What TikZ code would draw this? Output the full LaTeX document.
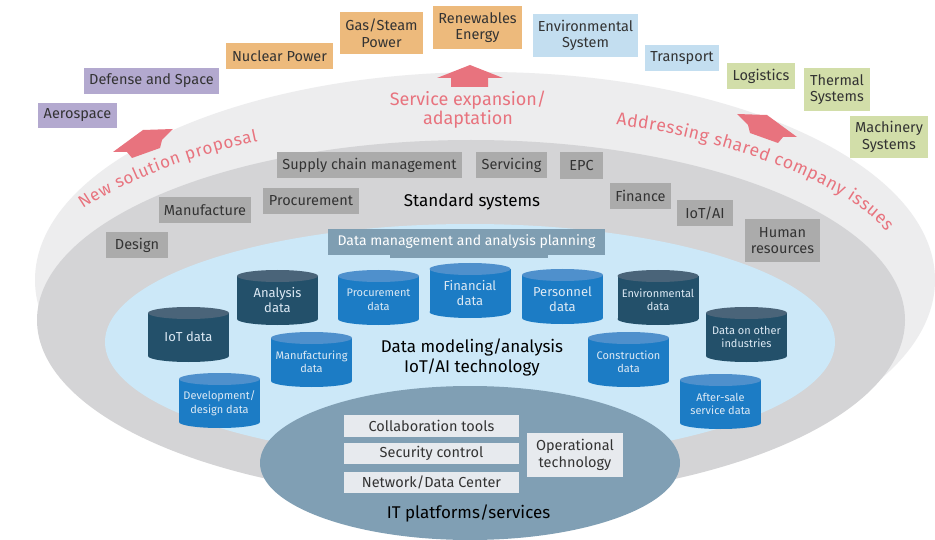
\documentclass[tikz,border=0pt]{standalone}
\usepackage{fontspec}
\setmainfont{Fira Sans}
\usetikzlibrary{decorations.text}
\definecolor{outerc}{HTML}{EDEDEE}
\definecolor{midc}{HTML}{D4D4D6}
\definecolor{bluec}{HTML}{CCE8F8}
\definecolor{itc}{HTML}{809FB4}
\definecolor{greyc}{HTML}{ABABAB}
\definecolor{purplec}{HTML}{B3A9CF}
\definecolor{orangec}{HTML}{EDBA7C}
\definecolor{lbluec}{HTML}{C3DEF0}
\definecolor{greenc}{HTML}{D2DEA9}
\definecolor{dmc}{HTML}{7F9EB2}
\definecolor{itboxc}{HTML}{E7EAEE}
\definecolor{labeltext}{HTML}{333333}
\definecolor{pinkc}{HTML}{E8737E}
\definecolor{darkbody}{HTML}{23506A}
\definecolor{darktop}{HTML}{4A6479}
\definecolor{bluebody}{HTML}{1C7CC5}
\definecolor{bluetop}{HTML}{4F90CC}
\definecolor{cyltxt}{HTML}{DCE9F4}
\newcommand{\dbcyl}[7]{%
  \fill[#4] (#2-40.5,#3+6) rectangle (#2+40.5,#3+49);
  \fill[#4] (#2,#3+49) ellipse [x radius=40.5, y radius=6];
  \fill[#5] (#2,#3+6) ellipse [x radius=40.5, y radius=6];
  \node[cyltext, font=#6] (#1) at (#2,#3+30) {#7};
}
\tikzset{
  lbl/.style={inner sep=0pt, align=center, text=labeltext, font=\fontsize{14.5}{16.5}\selectfont},
  bx/.style 2 args={minimum width=#1, minimum height=#2},
  greybox/.style={lbl, fill=greyc},
  purplebox/.style={lbl, fill=purplec},
  orangebox/.style={lbl, fill=orangec},
  lbluebox/.style={lbl, fill=lbluec},
  greenbox/.style={lbl, fill=greenc},
  itbox/.style={lbl, fill=itboxc},
  cyltext/.style={inner sep=0pt, align=center, text=cyltxt},
  bigtxt/.style={inner sep=0pt, align=center, text=black, font=\fontsize{17}{20}\selectfont},
  pinkarrow/.style={fill=pinkc},
}
\newcommand{\smallcyl}{\fontsize{11}{13.5}\selectfont}
\newcommand{\bigcyl}{\fontsize{13}{14.5}\selectfont}
\begin{document}
\begin{tikzpicture}[x=1pt,y=-1pt]
\useasboundingbox (0,0) rectangle (935,540);
\fill[white] (0,0) rectangle (935,540);
% discs
\fill[outerc] (485,280) ellipse [x radius=450, y radius=208];
\fill[midc] (471,320) ellipse [x radius=434, y radius=180];
\fill[bluec] (470,342) ellipse [x radius=365, y radius=118];
\fill[itc] (470,463) ellipse [x radius=210, y radius=77];
% arrows
\fill[pinkarrow] (113,152) -- (143,130) -- (173,129) -- (162,140) -- (160,148) -- (132,158) -- (127,152) -- cycle;
\fill[pinkarrow] (470,65) -- (503,78) -- (488,78) -- (488,87) -- (451,87) -- (451,78) -- (437,78) -- cycle;
\fill[pinkarrow] (797,137) -- (767,115) -- (737,114) -- (748,125) -- (750,133) -- (778,143) -- (783,137) -- cycle;
% pink texts
\path[decorate, decoration={text along path, text={|\color{pinkc}\fontsize{17}{17}\selectfont|New solution proposal}, text align={fit to path}}]
  (83,209) .. controls (129,178) and (205,152) .. (258,141);
\path[decorate, decoration={text along path, text={|\color{pinkc}\fontsize{17.5}{17.5}\selectfont|Addressing shared company issues}, text align={fit to path}}]
  (616,125) .. controls (705,135) and (845,178) .. (886,232);
\node[inner sep=0pt, align=center, text=pinkc, font=\fontsize{18}{19}\selectfont] (svc) at (468,110) {Service expansion/\\adaptation};
% industry boxes
\node[purplebox, bx={79}{25}] (aero) at (77.5,115.5) {Aerospace};
\node[purplebox, bx={135}{26}] (defense) at (151.5,81) {Defense and Space};
\node[orangebox, bx={107}{26}] (nuclear) at (279.5,56) {Nuclear Power};
\node[orangebox, bx={83}{42}] (gas) at (381.5,33) {Gas/Steam\\Power};
\node[orangebox, bx={89}{43}] (renew) at (477.5,27.5) {Renewables\\Energy};
\node[lbluebox, bx={105}{43}] (envsys) at (585.5,35.5) {Environmental\\System};
\node[lbluebox, bx={74}{26}] (transport) at (682,58) {Transport};
\node[greenbox, bx={68}{26}] (logistics) at (761,76) {Logistics};
\node[greenbox, bx={66}{43}] (thermal) at (837,89.5) {Thermal\\Systems};
\node[greenbox, bx={78}{42}] (machinery) at (889,137) {Machinery\\Systems};
% standard systems boxes
\node[greybox, bx={185}{26}] (scm) at (369.5,165) {Supply chain management};
\node[greybox, bx={96}{26}] (procure) at (311,201) {Procurement};
\node[greybox, bx={92}{26}] (manuf) at (205,210) {Manufacture};
\node[greybox, bx={62}{26}] (design) at (137,245) {Design};
\node[greybox, bx={71}{26}] (servicing) at (511.5,165) {Servicing};
\node[greybox, bx={43}{27}] (epc) at (581.5,166) {EPC};
\node[greybox, bx={61}{26}] (finance) at (640.5,196) {Finance};
\node[greybox, bx={56}{26}] (iotai) at (705,213) {IoT/AI};
\node[greybox, bx={75}{43}] (hr) at (782.5,240.5) {Human\\resources};
\node[bigtxt] (std) at (472,202) {Standard systems};
% data management
\fill[dmc] (390,250) rectangle (548,258);
\node[lbl, fill=dmc, text=white, font=\fontsize{14}{16}\selectfont, bx={277}{26}] (dmp) at (466.5,242) {Data management and analysis planning};
% cylinders
\dbcyl{iot}{188.5}{307}{darkbody}{darktop}{\bigcyl}{IoT data}
\dbcyl{analysis}{277.5}{270}{darkbody}{darktop}{\bigcyl}{Analysis\\data}
\dbcyl{procdata}{378.5}{270}{bluebody}{bluetop}{\smallcyl}{Procurement\\data}
\dbcyl{financial}{470}{263}{bluebody}{bluetop}{\bigcyl}{Financial\\data}
\dbcyl{personnel}{562.5}{269}{bluebody}{bluetop}{\bigcyl}{Personnel\\data}
\dbcyl{envdata}{658}{270}{darkbody}{darktop}{\smallcyl}{Environmental\\data}
\dbcyl{other}{746.5}{307}{darkbody}{darktop}{\smallcyl}{Data on other\\industries}
\dbcyl{manufdata}{311.5}{332}{bluebody}{bluetop}{\smallcyl}{Manufacturing\\data}
\dbcyl{construct}{628.5}{332}{bluebody}{bluetop}{\smallcyl}{Construction\\data}
\dbcyl{devdata}{219.5}{373}{bluebody}{bluetop}{\smallcyl}{Development/\\design data}
\dbcyl{aftersale}{720.5}{374}{bluebody}{bluetop}{\smallcyl}{After-sale\\service data}
\node[bigtxt] (dmod) at (472,357) {Data modeling/analysis\\IoT/AI technology};
% IT platform
\node[itbox, bx={175}{22}] (collab) at (431.5,426) {Collaboration tools};
\node[itbox, bx={175}{21}] (security) at (431.5,453.5) {Security control};
\node[itbox, bx={175}{21}] (network) at (431.5,482.5) {Network/Data Center};
\node[itbox, bx={96}{44}] (ot) at (575,455) {Operational\\technology};
\node[bigtxt] (itp) at (468.5,513) {IT platforms/services};
\end{tikzpicture}
\end{document}
